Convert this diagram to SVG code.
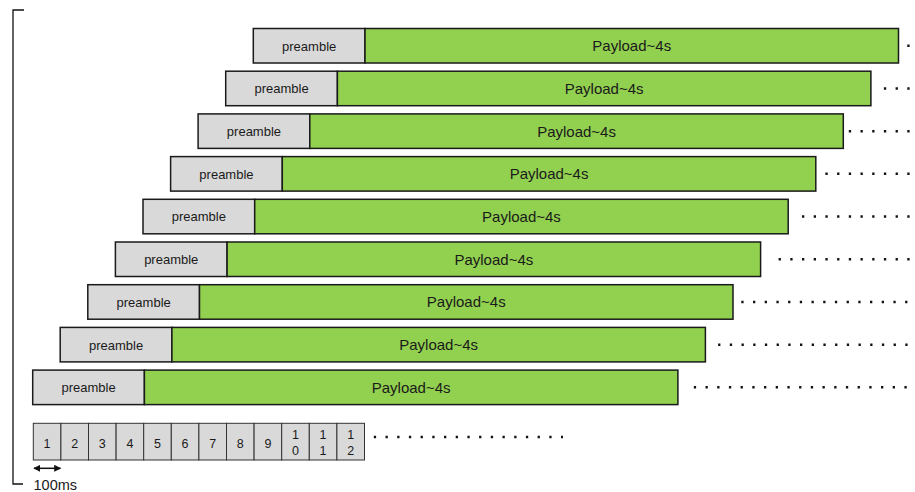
<svg xmlns="http://www.w3.org/2000/svg" width="915" height="492" viewBox="0 0 915 492">
<defs>
<style>
.pre{fill:#d9d9d9;stroke:#1a1a1a;stroke-width:1.5}
.pay{fill:#92d050;stroke:#1a1a1a;stroke-width:1.5}
.tp{font-family:"Liberation Sans",Arial,sans-serif;font-size:13px;fill:#1a1a1a;text-anchor:middle}
.tl{font-family:"Liberation Sans",Arial,sans-serif;font-size:15px;fill:#1a1a1a;text-anchor:middle}
.num{fill:#d9d9d9;stroke:#333;stroke-width:1}
.tn{font-family:"Liberation Sans",Arial,sans-serif;font-size:12.5px;fill:#1a1a1a;text-anchor:middle}
.dot{stroke:#111;stroke-width:2.5;stroke-dasharray:2.3 9.4;fill:none}
.br{stroke:#111;stroke-width:1.3;fill:none}
</style>
<marker id="ah" viewBox="0 0 10 10" refX="9" refY="5" markerWidth="7" markerHeight="7" markerUnits="userSpaceOnUse" orient="auto-start-reverse">
<path d="M0,0 L10,5 L0,10 z" fill="#111"/>
</marker>
</defs>
<rect width="915" height="492" fill="#fff"/>
<path class="br" d="M24,10 H13 V484 H23"/>

<g id="row1"><rect class="pre" x="253.3" y="28.5" width="111.7" height="34.5"/><rect class="pay" x="365" y="28.5" width="533.5" height="34.5"/><text class="tp" x="309.15" y="50.6">preamble</text><text class="tl" x="631.75" y="51.2">Payload~4s</text></g>
<g id="row2"><rect class="pre" x="225.7" y="71.2" width="111.7" height="34.5"/><rect class="pay" x="337.4" y="71.2" width="533.5" height="34.5"/><text class="tp" x="281.55" y="93.3">preamble</text><text class="tl" x="604.15" y="93.9">Payload~4s</text></g>
<g id="row3"><rect class="pre" x="198.1" y="113.9" width="111.7" height="34.5"/><rect class="pay" x="309.8" y="113.9" width="533.5" height="34.5"/><text class="tp" x="253.95" y="136">preamble</text><text class="tl" x="576.55" y="136.6">Payload~4s</text></g>
<g id="row4"><rect class="pre" x="170.6" y="156.6" width="111.7" height="34.5"/><rect class="pay" x="282.3" y="156.6" width="533.5" height="34.5"/><text class="tp" x="226.45" y="178.7">preamble</text><text class="tl" x="549.05" y="179.3">Payload~4s</text></g>
<g id="row5"><rect class="pre" x="143" y="199.3" width="111.7" height="34.5"/><rect class="pay" x="254.7" y="199.3" width="533.5" height="34.5"/><text class="tp" x="198.85" y="221.4">preamble</text><text class="tl" x="521.45" y="222">Payload~4s</text></g>
<g id="row6"><rect class="pre" x="115.4" y="242" width="111.7" height="34.5"/><rect class="pay" x="227.1" y="242" width="533.5" height="34.5"/><text class="tp" x="171.25" y="264.1">preamble</text><text class="tl" x="493.85" y="264.7">Payload~4s</text></g>
<g id="row7"><rect class="pre" x="87.8" y="284.7" width="111.7" height="34.5"/><rect class="pay" x="199.5" y="284.7" width="533.5" height="34.5"/><text class="tp" x="143.65" y="306.8">preamble</text><text class="tl" x="466.25" y="307.4">Payload~4s</text></g>
<g id="row8"><rect class="pre" x="60.2" y="327.4" width="111.7" height="34.5"/><rect class="pay" x="171.9" y="327.4" width="533.5" height="34.5"/><text class="tp" x="116.05" y="349.5">preamble</text><text class="tl" x="438.65" y="350.1">Payload~4s</text></g>
<g id="row9"><rect class="pre" x="32.7" y="370.1" width="111.7" height="34.5"/><rect class="pay" x="144.4" y="370.1" width="533.5" height="34.5"/><text class="tp" x="88.55" y="392.2">preamble</text><text class="tl" x="411.15" y="392.8">Payload~4s</text></g>

<g id="timeline">
<rect class="num" x="33.3" y="423.3" width="27.6" height="36.7"/>
<rect class="num" x="60.9" y="423.3" width="27.6" height="36.7"/>
<rect class="num" x="88.5" y="423.3" width="27.6" height="36.7"/>
<rect class="num" x="116.1" y="423.3" width="27.6" height="36.7"/>
<rect class="num" x="143.7" y="423.3" width="27.6" height="36.7"/>
<rect class="num" x="171.3" y="423.3" width="27.6" height="36.7"/>
<rect class="num" x="198.9" y="423.3" width="27.6" height="36.7"/>
<rect class="num" x="226.5" y="423.3" width="27.6" height="36.7"/>
<rect class="num" x="254.1" y="423.3" width="27.6" height="36.7"/>
<rect class="num" x="281.7" y="423.3" width="27.6" height="36.7"/>
<rect class="num" x="309.3" y="423.3" width="27.6" height="36.7"/>
<rect class="num" x="336.9" y="423.3" width="27.6" height="36.7"/>
<text class="tn" x="47.1" y="447.5">1</text>
<text class="tn" x="74.7" y="447.5">2</text>
<text class="tn" x="102.3" y="447.5">3</text>
<text class="tn" x="129.9" y="447.5">4</text>
<text class="tn" x="157.5" y="447.5">5</text>
<text class="tn" x="185.1" y="447.5">6</text>
<text class="tn" x="212.7" y="447.5">7</text>
<text class="tn" x="240.3" y="447.5">8</text>
<text class="tn" x="267.9" y="447.5">9</text>
<text class="tn" x="295.5" y="438.6">1</text><text class="tn" x="295.5" y="455.2">0</text>
<text class="tn" x="323.1" y="438.6">1</text><text class="tn" x="323.1" y="455.2">1</text>
<text class="tn" x="350.7" y="438.6">1</text><text class="tn" x="350.7" y="455.2">2</text>
</g>

<g id="scale">
<line x1="34" y1="468.3" x2="60.5" y2="468.3" stroke="#111" stroke-width="1.5" marker-start="url(#ah)" marker-end="url(#ah)"/>
<text font-family="Liberation Sans, Arial, sans-serif" font-size="14.5" fill="#1a1a1a" x="33.5" y="489.5">100ms</text>
</g>

<g id="connectors">
<line class="dot" x1="907.3" y1="45.75" x2="910" y2="45.75"/>
<line class="dot" x1="883.9" y1="88.45" x2="910" y2="88.45"/>
<line class="dot" x1="848.8" y1="131.15" x2="910" y2="131.15"/>
<line class="dot" x1="825.4" y1="173.85" x2="910" y2="173.85"/>
<line class="dot" x1="802" y1="216.55" x2="910" y2="216.55"/>
<line class="dot" x1="778.6" y1="259.25" x2="910" y2="259.25"/>
<line class="dot" x1="741.3" y1="301.95" x2="910" y2="301.95"/>
<line class="dot" x1="718.1" y1="344.65" x2="910" y2="344.65"/>
<line class="dot" x1="693.8" y1="387.35" x2="910" y2="387.35"/>
<line class="dot" x1="373.8" y1="437" x2="563" y2="437"/>
</g>
</svg>
